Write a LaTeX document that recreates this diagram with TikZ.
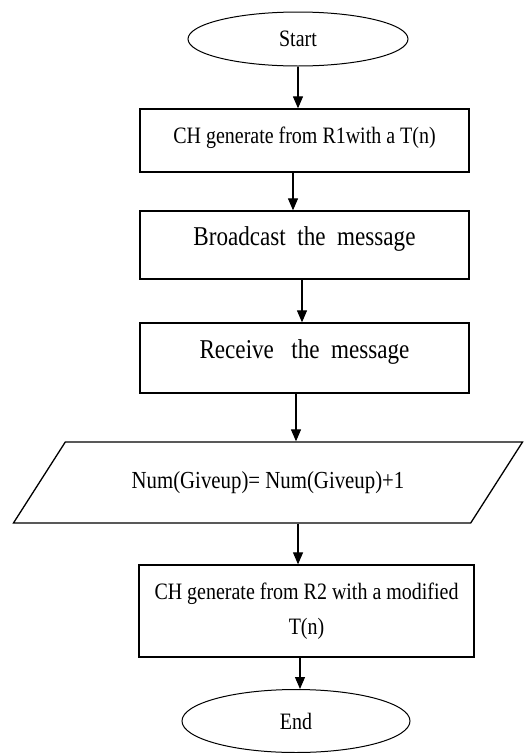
\documentclass[tikz,border=0pt]{standalone}
\usepackage{fontspec}
\setmainfont{Liberation Serif}[FakeStretch=0.85]
\usepackage{tikz}
\usetikzlibrary{shapes.geometric, arrows.meta}

\tikzset{
  flow/.style={line width=1.1pt, -{Triangle[length=12pt, width=10pt]}},
  term/.style={draw, ellipse, line width=1pt, inner sep=0pt, font=\fontsize{23.5}{28}\selectfont},
  proc/.style={draw, rectangle, line width=1.3pt, inner sep=0pt, minimum width=329pt},
  para/.style={draw, trapezium, trapezium left angle=32.5, trapezium right angle=147.5,
    trapezium stretches=true, minimum width=510pt, minimum height=81pt, inner sep=0pt,
    line width=1.3pt, font=\fontsize{24.5}{28}\selectfont}
}

\begin{document}
\begin{tikzpicture}[x=1pt, y=-1pt]
            \useasboundingbox (0,0) rectangle (528,753);
            \node[term, minimum width=220pt, minimum height=54pt] (start) at (298,39) {Start};
            \node[proc, text height=34pt, text depth=29pt, font=\fontsize{23.5}{28}\selectfont] (gen1) at (304.5,140.5) {CH generate from R1with a T(n)};
            \node[proc, text height=34pt, text depth=34pt, font=\fontsize{27.2}{32}\selectfont] (bcast) at (304.5,245) {Broadcast\ \ the\ \ message};
            \node[proc, text height=35pt, text depth=35pt, font=\fontsize{27.2}{32}\selectfont] (recv) at (304.5,358) {Receive\ \ \ the\ \ message};
            \node[para] (upd) at (268,482.5) {Num(Giveup)= Num(Giveup)+1};
            \node[proc, minimum width=335pt, minimum height=92pt, align=center, font=\fontsize{23.5}{35}\selectfont] (gen2) at (306.5,611) {CH generate from R2 with a modified\\T(n)};
            \node[term, minimum width=228pt, minimum height=63pt] (fin) at (296,721) {End};
            \draw[flow] (start.south) -- (start.south |- gen1.north);
            \draw[flow] ([xshift=-11.5pt]gen1.south) -- ([xshift=-11.5pt]gen1.south |- bcast.north);
            \draw[flow] ([xshift=-2.5pt]bcast.south) -- ([xshift=-2.5pt]bcast.south |- recv.north);
            \draw[flow] ([xshift=-8.5pt]recv.south) -- ([xshift=-8.5pt]recv.south |- upd.north);
            \draw[flow] ([xshift=30pt]upd.south) -- ([xshift=30pt]upd.south |- gen2.north);
            \draw[flow] ([xshift=-6.5pt]gen2.south) -- ([xshift=-6.5pt]gen2.south |- fin.north);
        \end{tikzpicture}
\end{document}
